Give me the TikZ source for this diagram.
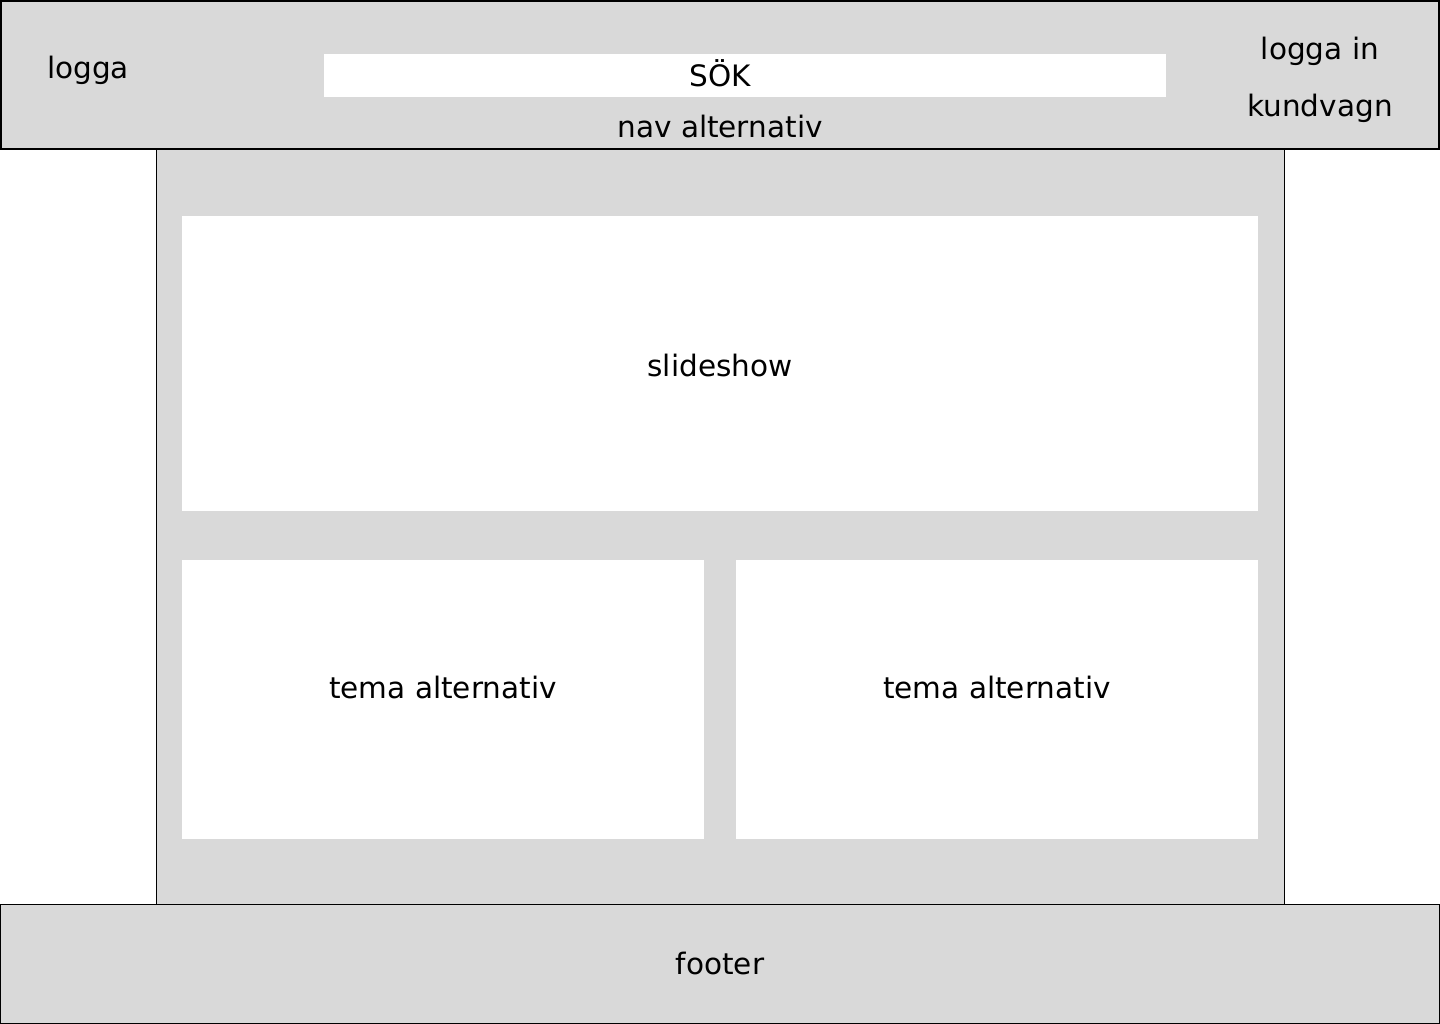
\documentclass[tikz,border=0pt]{standalone}
\usepackage{fontspec}
\setmainfont{DejaVu Sans}
\definecolor{panel}{HTML}{D9D9D9}
\tikzset{
  graybox/.style={fill=panel, draw=black},
  whitebox/.style={fill=white, draw=none},
  lbl/.style={font=\fontsize{29.5}{34}\selectfont, text=black, inner sep=0pt, anchor=base}
}
\begin{document}
\begin{tikzpicture}[x=1pt,y=-1pt]
\useasboundingbox (0,0) rectangle (1440,1024);
% content area
\draw[graybox, line width=1pt] (156.5,150) rectangle (1284.5,904.5);
\node[whitebox, minimum width=1076pt, minimum height=295pt, anchor=north west, inner sep=0pt] (slide) at (182,216) {};
\node[whitebox, minimum width=522pt, minimum height=279pt, anchor=north west, inner sep=0pt] (temaL) at (182,560) {};
\node[whitebox, minimum width=522pt, minimum height=279pt, anchor=north west, inner sep=0pt] (temaR) at (736,560) {};
% header
\draw[graybox, line width=2pt] (1,1) rectangle (1439,149.5);
\node[whitebox, minimum width=842pt, minimum height=43pt, anchor=north west, inner sep=0pt] (sok) at (324,54) {};
% footer
\draw[graybox, line width=1.2pt] (0.6,904.5) rectangle (1439.4,1023.4);
% labels
\node[lbl] (logga) at (88,79) {logga};
\node[lbl] (soktxt) at (720,86.5) {SÖK};
\node[lbl] (nav) at (720,138) {nav alternativ};
\node[lbl] (login) at (1320,60) {logga in};
\node[lbl] (kund) at (1320,117) {kundvagn};
\node[lbl] (slidetxt) at (720,376) {slideshow};
\node[lbl] (temaLtxt) at (443,698) {tema alternativ};
\node[lbl] (temaRtxt) at (997,698) {tema alternativ};
\node[lbl] (footer) at (720,974) {footer};
\end{tikzpicture}
\end{document}
